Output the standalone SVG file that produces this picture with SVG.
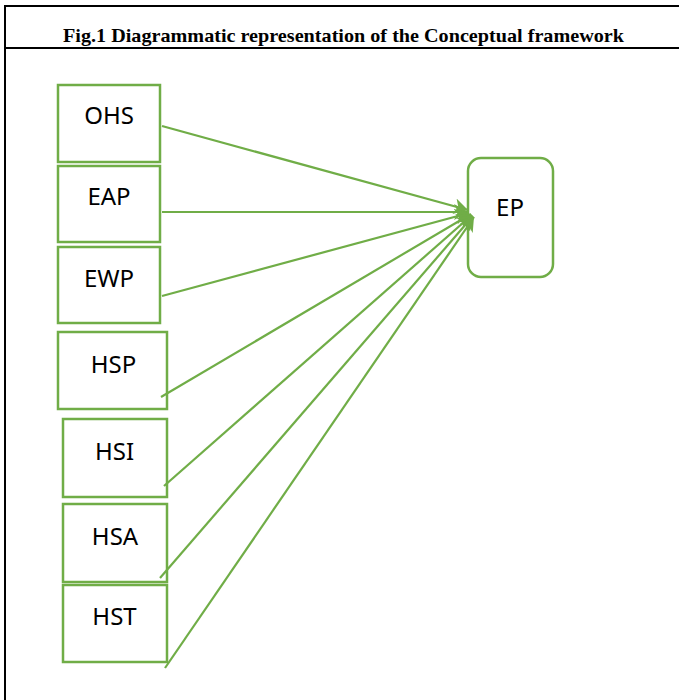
<svg xmlns="http://www.w3.org/2000/svg" width="679" height="700" viewBox="0 0 679 700">
<style>
.frame{stroke:#000;stroke-width:2;fill:none}
.box{fill:#fff;stroke:#70AD47;stroke-width:2.5}
.lbl{font-family:"Noto Sans","Open Sans",sans-serif;font-size:24px;fill:#000;text-anchor:middle}
.title{font-family:"Liberation Serif","Times New Roman",serif;font-weight:bold;font-size:19.5px;fill:#000}
.conn{stroke:#70AD47;stroke-width:2.2;fill:none;marker-end:url(#arr)}
</style>
<defs>
<marker id="arr" markerUnits="userSpaceOnUse" markerWidth="16" markerHeight="16" refX="14" refY="8" orient="auto">
<path d="M0,0 L14,8 L0,16 L4,8 Z" fill="#70AD47"/>
</marker>
</defs>
<rect width="679" height="700" fill="#fff"/>
<g id="frame">
<line class="frame" x1="4" y1="6" x2="679" y2="6"/>
<line class="frame" x1="4" y1="48" x2="679" y2="48"/>
<line class="frame" x1="5" y1="5" x2="5" y2="700"/>
<text class="title" x="63" y="41.5" textLength="561" lengthAdjust="spacingAndGlyphs">Fig.1 Diagrammatic representation of the Conceptual framework</text>
</g>
<g id="node-OHS"><rect class="box" x="58" y="85" width="102" height="77"/><text class="lbl" x="109" y="124">OHS</text></g>
<g id="node-EAP"><rect class="box" x="58" y="166" width="102" height="76"/><text class="lbl" x="109" y="205">EAP</text></g>
<g id="node-EWP"><rect class="box" x="58" y="247" width="102" height="76"/><text class="lbl" x="109" y="287">EWP</text></g>
<g id="node-HSP"><rect class="box" x="58" y="332" width="109" height="77"/><text class="lbl" x="113.5" y="373">HSP</text></g>
<g id="node-HSI"><rect class="box" x="63" y="419" width="104" height="78"/><text class="lbl" x="114.5" y="460">HSI</text></g>
<g id="node-HSA"><rect class="box" x="63" y="504" width="104" height="78"/><text class="lbl" x="115" y="545">HSA</text></g>
<g id="node-HST"><rect class="box" x="63" y="585" width="104" height="77"/><text class="lbl" x="114.5" y="625">HST</text></g>
<g id="node-EP"><rect class="box" x="468" y="158" width="85" height="119" rx="13"/><text class="lbl" x="510" y="216">EP</text></g>
<g id="connectors">
<line class="conn" x1="162" y1="126" x2="468" y2="210"/>
<line class="conn" x1="162" y1="212" x2="468" y2="212"/>
<line class="conn" x1="162" y1="296" x2="469" y2="213"/>
<line class="conn" x1="161" y1="397" x2="471" y2="214"/>
<line class="conn" x1="164" y1="486" x2="472" y2="215"/>
<line class="conn" x1="160" y1="578" x2="473" y2="216"/>
<line class="conn" x1="165" y1="668" x2="474" y2="217"/>
</g>
</svg>
